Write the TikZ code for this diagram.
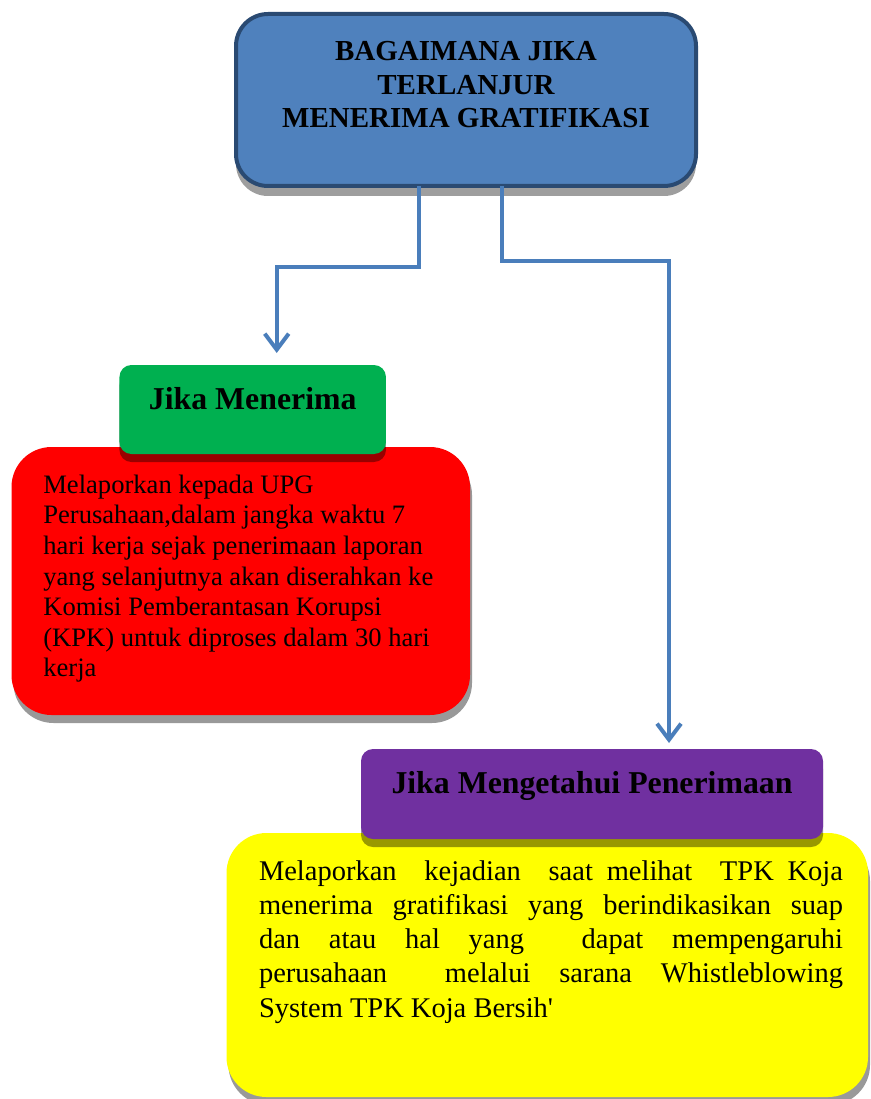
\documentclass[tikz,border=0pt]{standalone}
\usepackage{fontspec}
\setmainfont{Liberation Serif}
\usetikzlibrary{shadows,arrows.meta}
\definecolor{topfill}{HTML}{4F81BD}
\definecolor{topline}{HTML}{2A4A72}
\definecolor{connblue}{HTML}{4A7EBB}
\definecolor{greenfill}{HTML}{00B050}
\definecolor{purplefill}{HTML}{7030A0}
\definecolor{redfill}{HTML}{FF0000}
\definecolor{yellowfill}{HTML}{FFFF00}
\newcommand\mytitlefont{\fontsize{29}{33.5}\selectfont\bfseries}
\newcommand\myheadfont{\fontsize{31.8}{36}\selectfont\bfseries}
\newcommand\myredfont{\fontsize{26.6}{30.6}\selectfont}
\newcommand\myyellowfont{\fontsize{28.5}{34.3}\selectfont}
\begin{document}
\begin{tikzpicture}[x=1pt,y=-1pt,
  boxbase/.style={rectangle, inner sep=0pt, outer sep=0pt, text=black},
  topbox/.style={boxbase, fill=topfill, draw=topline, line width=4pt, rounded corners=32pt,
    drop shadow={shadow xshift=0pt, shadow yshift=-10pt, fill=black, opacity=0.38}},
  headbox/.style={boxbase, rounded corners=12pt,
    drop shadow={shadow xshift=0pt, shadow yshift=-8pt, fill=black, opacity=0.4}},
  bodybox/.style={boxbase, rounded corners=40pt,
    drop shadow={shadow xshift=2pt, shadow yshift=-8pt, fill=black, opacity=0.4}},
  conn/.style={draw=connblue, line width=4pt, -{Straight Barb[length=16pt,width=24pt]}}
]
\useasboundingbox (0,0) rectangle (870,1099);

% top box
\node[topbox, anchor=base, minimum width=460pt, text height=47pt, text depth=125pt] (top) at (466,61)
  {\parbox[t]{460pt}{\mytitlefont\centering BAGAIMANA JIKA\\ TERLANJUR\\ MENERIMA GRATIFIKASI}};

% red body
\node[bodybox, fill=redfill, anchor=base west, minimum width=458.5pt, text height=46.3pt, text depth=221.7pt] (red) at (11.5,493.3)
  {\parbox[t]{458.5pt}{\myredfont\raggedright\leftskip=31.8pt
    Melaporkan kepada UPG\\
    Perusahaan,dalam jangka waktu 7\\
    hari kerja sejak penerimaan laporan\\
    yang selanjutnya akan diserahkan ke\\
    Komisi Pemberantasan Korupsi\\
    (KPK) untuk diproses dalam 30 hari\\
    kerja}};

% green head
\node[headbox, fill=greenfill, anchor=base, minimum width=266.5pt, text height=44pt, text depth=45pt] (green) at (252.7,409)
  {\myheadfont Jika Menerima};

% yellow body
\node[bodybox, fill=yellowfill, anchor=base west, minimum width=641.5pt, text height=47pt, text depth=217pt] (yellow) at (226.5,880)
  {\parbox[t]{641.5pt}{\myyellowfont\leftskip=32.5pt\parindent=0pt
    \makebox[584pt][s]{Melaporkan\ \ kejadian\ \ saat melihat\ \ TPK Koja}\\
    \makebox[584pt][s]{menerima gratifikasi yang berindikasikan suap}\\
    \makebox[584pt][s]{dan atau hal yang\ \ dapat mempengaruhi}\\
    \makebox[584pt][s]{perusahaan\ \ melalui sarana Whistleblowing}\\
    System TPK Koja Bersih\textquotesingle}};

% purple head
\node[headbox, fill=purplefill, anchor=base, minimum width=462pt, text height=44pt, text depth=46pt] (purple) at (592,793)
  {\myheadfont Jika Mengetahui Penerimaan};

% connectors
\draw[conn] ([xshift=-47pt]top.south) -- ++(0,81) -| ([xshift=24pt,yshift=12pt]green.north);
\draw[conn] ([xshift=36pt]top.south) -- ++(0,75) -| ([xshift=77pt,yshift=6pt]purple.north);
\end{tikzpicture}
\end{document}
